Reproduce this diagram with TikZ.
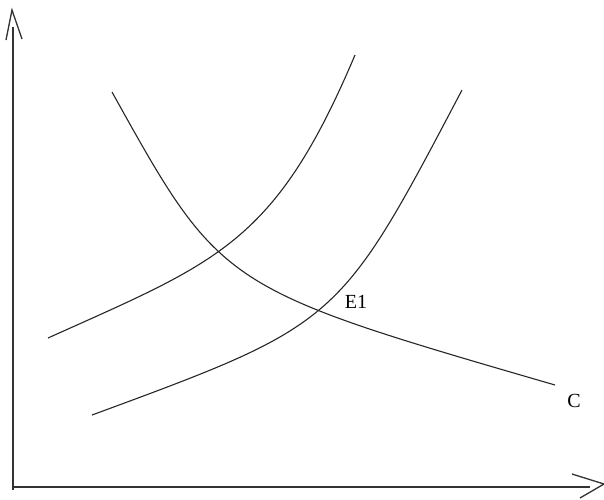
\documentclass[tikz,border=0pt]{standalone}
\usepackage{fontspec}
\setmainfont{Liberation Serif}
\begin{document}
\begin{tikzpicture}[x=1pt,y=-1pt,
  axis/.style={line width=1.3pt,black!80},
  curve/.style={line width=1.1pt,black!85},
  lbl/.style={font=\fontsize{20}{24}\selectfont,inner sep=0pt}]
\useasboundingbox (0,0) rectangle (604,499);
% axes
\coordinate (O) at (13,487);
\coordinate (ytop) at (13,27);
\coordinate (ybot) at (13,490);
\coordinate (ytip) at (12,10);
\coordinate (yl) at (6,40);
\coordinate (yr) at (22,39);
\coordinate (xend) at (590,487);
\coordinate (xtip) at (604,484);
\coordinate (xu) at (572,474);
\coordinate (xd) at (580,498);
\draw[axis] (ybot) -- (ytop);
\draw[axis] (O) -- (xend);
\draw[axis] (yl) -- (ytip) -- (yr);
\draw[axis] (xu) -- (xtip) -- (xd);
% curve end points
\coordinate (s1a) at (48,338);
\coordinate (s1b) at (355,55);
\coordinate (s2a) at (92,415);
\coordinate (s2b) at (462,90);
\coordinate (da) at (112,92);
\coordinate (db) at (555,385);
% supply curve 1
\draw[curve] (s1a) .. controls (218,261.5) and (275,244) .. (s1b);
% supply curve 2
\draw[curve] (s2a) .. controls (339,324) .. (s2b);
% demand curve
\draw[curve] (da) .. controls (221,288) .. (db);
\node[lbl] (e1) at (356,302) {E1};
\node[lbl] (c) at (574,401) {C};
\end{tikzpicture}
\end{document}
